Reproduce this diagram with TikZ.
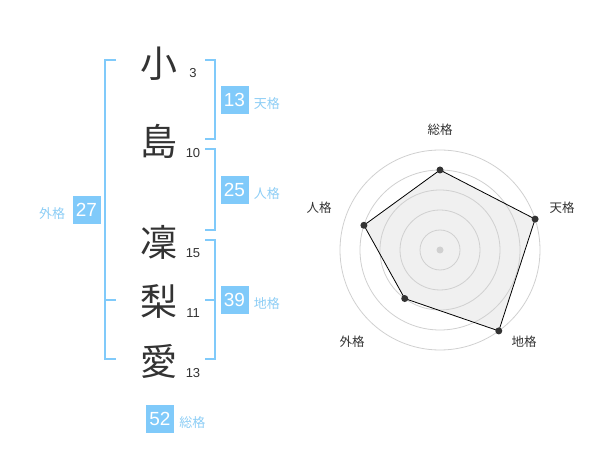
\documentclass[tikz,border=0pt]{standalone}
\usepackage{fontspec}
\setmainfont{Liberation Sans}
\newfontfamily\jpfont{Noto Sans CJK JP}
\usetikzlibrary{positioning}

\definecolor{kakublue}{RGB}{128,202,250}
\definecolor{kakutext}{RGB}{140,205,245}
\definecolor{inkgray}{RGB}{51,51,51}
\definecolor{ringgray}{RGB}{208,208,208}
\definecolor{areagray}{RGB}{240,240,240}

\tikzset{
  moji/.style={font=\jpfont\fontsize{37}{37}\selectfont, text=inkgray, inner sep=0pt},
  kakusu/.style={font=\fontsize{13}{13}\selectfont, text=inkgray, inner sep=0pt},
  score/.style={fill=kakublue, text=white, minimum size=28pt, inner sep=0pt,
    font=\fontsize{19}{19}\selectfont},
  tag/.style={font=\jpfont\fontsize{13}{13}\selectfont, text=kakutext, inner sep=0pt},
  bracket/.style={draw=kakublue, line width=2pt},
  axislabel/.style={font=\jpfont\fontsize{12.5}{12.5}\selectfont, text=inkgray, inner sep=0pt}
}

\begin{document}
\begin{tikzpicture}[x=1pt,y=-1pt]
  \useasboundingbox (0,0) rectangle (600,470);

  % name, one character per line
  \node[moji] (c1) at (159,64) {小};
  \node[moji] (c2) at (159,141) {島};
  \node[moji] (c3) at (159,242) {凜};
  \node[moji] (c4) at (159,301) {梨};
  \node[moji] (c5) at (159,361) {愛};

  % stroke counts
  \node[kakusu] (n1) at (193,73) {3};
  \node[kakusu] (n2) at (193,153) {10};
  \node[kakusu] (n3) at (193,253) {15};
  \node[kakusu] (n4) at (193,313) {11};
  \node[kakusu] (n5) at (193,373) {13};

  % brackets
  \draw[bracket] (116,60) -- (105,60) -- (105,359.5) -- (116,359.5);
  \draw[bracket] (105,300) -- (116,300);
  \draw[bracket] (205,60) -- (214.5,60) -- (214.5,139.5) -- (205,139.5);
  \draw[bracket] (205,149.5) -- (214.5,149.5) -- (214.5,230) -- (205,230);
  \draw[bracket] (205,240) -- (214.5,240) -- (214.5,359.5) -- (205,359.5);
  \draw[bracket] (205,300) -- (214.5,300);

  % scores and their names
  \node[score] (ten) at (234.5,100) {13};
  \node[tag, right=5pt of ten, yshift=-3.5pt] (tenlbl) {天格};
  \node[score] (jin) at (234.5,190) {25};
  \node[tag, right=5pt of jin, yshift=-3.5pt] (jinlbl) {人格};
  \node[score] (gai) at (86.5,210) {27};
  \node[tag, left=7pt of gai, yshift=-3.5pt] (gailbl) {外格};
  \node[score] (chi) at (234.5,300) {39};
  \node[tag, right=5pt of chi, yshift=-3.5pt] (chilbl) {地格};
  \node[score] (sou) at (160,419) {52};
  \node[tag, right=5pt of sou, yshift=-3.5pt] (soulbl) {総格};

  % radar chart, 20pt per step
  \begin{scope}[shift={(440,250)}]
    \coordinate (rsou) at (-90:80);
    \coordinate (rten) at (-18:100);
    \coordinate (rchi) at (54:100);
    \coordinate (rgai) at (126:60);
    \coordinate (rjin) at (198:80);

    \fill[areagray] (rsou) -- (rten) -- (rchi) -- (rgai) -- (rjin) -- cycle;

    \draw[ringgray, line width=0.8pt] (0,0) circle (20pt);
    \draw[ringgray, line width=0.8pt] (0,0) circle (40pt);
    \draw[ringgray, line width=0.8pt] (0,0) circle (60pt);
    \draw[ringgray, line width=0.8pt] (0,0) circle (80pt);
    \draw[ringgray, line width=0.8pt] (0,0) circle (100pt);
    \fill[ringgray] (0,0) circle (3.5pt);

    \draw[black, line width=0.8pt] (rsou) -- (rten) -- (rchi) -- (rgai) -- (rjin) -- cycle;
    \fill[inkgray] (rsou) circle (3.5pt);
    \fill[inkgray] (rten) circle (3.5pt);
    \fill[inkgray] (rchi) circle (3.5pt);
    \fill[inkgray] (rgai) circle (3.5pt);
    \fill[inkgray] (rjin) circle (3.5pt);
  \end{scope}

  % axis names
  \node[axislabel] (asou) at (440,130) {総格};
  \node[axislabel] (aten) at (562,208) {天格};
  \node[axislabel] (achi) at (524,342) {地格};
  \node[axislabel] (agai) at (352,342) {外格};
  \node[axislabel] (ajin) at (319,208) {人格};
\end{tikzpicture}
\end{document}
